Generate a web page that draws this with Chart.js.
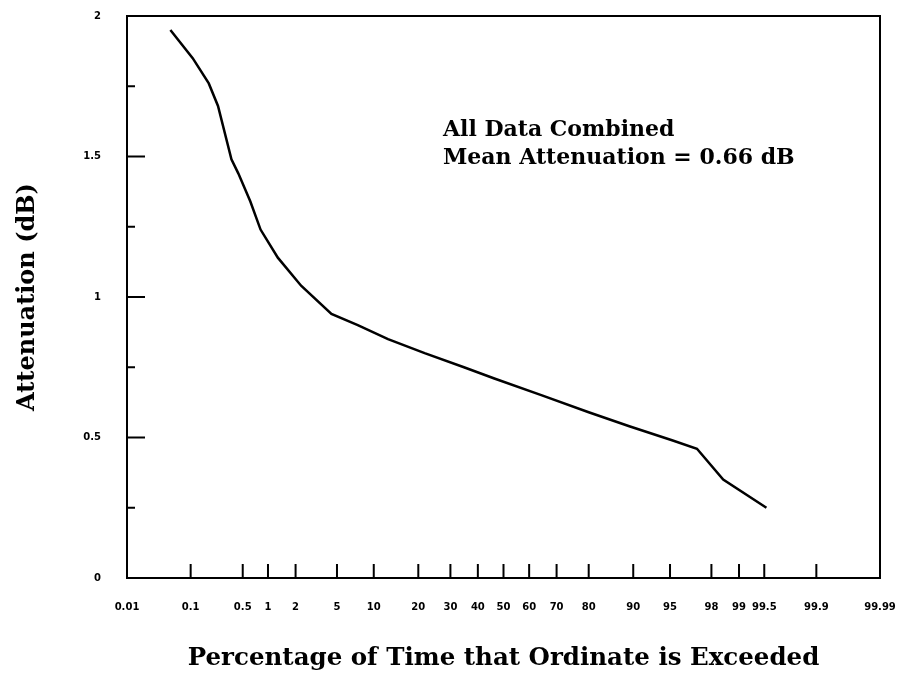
<!DOCTYPE html>
<html>
<head>
<meta charset="utf-8">
<script src="https://cdn.jsdelivr.net/npm/chart.js@4.4.0/dist/chart.umd.min.js"></script>
<style>
  html, body { margin: 0; padding: 0; background: #fff; }
  #wrap { width: 903px; height: 673px; }
</style>
</head>
<body>
<div id="wrap"><canvas id="chart"></canvas></div>
<script>
// percentage of time exceeded and attenuation in dB
var percentExceeded = [0.05, 0.107, 0.18, 0.24, 0.36, 0.44, 0.62, 0.82, 1.29, 2.28, 4.46, 7.5, 12.7, 21.8, 34.8, 46.4, 64.8, 80.0, 89.3, 95.2, 97.2, 98.5, 99.53];
var attenuation = [1.95, 1.85, 1.76, 1.68, 1.49, 1.44, 1.34, 1.24, 1.14, 1.04, 0.94, 0.90, 0.85, 0.80, 0.75, 0.71, 0.65, 0.59, 0.54, 0.49, 0.46, 0.35, 0.25];

var xTickLabels = [0.01, 0.1, 0.5, 1, 2, 5, 10, 20, 30, 40, 50, 60, 70, 80, 90, 95, 98, 99, 99.5, 99.9, 99.99];
var yTickValues = [0, 0.25, 0.5, 0.75, 1, 1.25, 1.5, 1.75, 2];
var yMajor = [0, 0.5, 1, 1.5, 2];

// inverse normal cdf (Acklam) -> probability paper axis
function probit(pct) {
  var p = pct / 100;
  var a = [-39.69683028665376, 220.9460984245205, -275.9285104469687, 138.357751867269, -30.66479806614716, 2.506628277459239];
  var b = [-54.47609879822406, 161.5858368580409, -155.6989798598866, 66.80131188771972, -13.28068155288572];
  var c = [-0.007784894002430293, -0.3223964580411365, -2.400758277161838, -2.549732539343734, 4.374664141464968, 2.938163982698783];
  var d = [0.007784695709041462, 0.3224671290700398, 2.445134137142996, 3.754408661907416];
  var pl = 0.02425, q, r;
  if (p < pl) {
    q = Math.sqrt(-2 * Math.log(p));
    return (((((c[0]*q+c[1])*q+c[2])*q+c[3])*q+c[4])*q+c[5]) / ((((d[0]*q+d[1])*q+d[2])*q+d[3])*q+1);
  }
  if (p > 1 - pl) {
    q = Math.sqrt(-2 * Math.log(1 - p));
    return -(((((c[0]*q+c[1])*q+c[2])*q+c[3])*q+c[4])*q+c[5]) / ((((d[0]*q+d[1])*q+d[2])*q+d[3])*q+1);
  }
  q = p - 0.5; r = q * q;
  return (((((a[0]*r+a[1])*r+a[2])*r+a[3])*r+a[4])*r+a[5])*q / (((((b[0]*r+b[1])*r+b[2])*r+b[3])*r+b[4])*r+1);
}

var points = percentExceeded.map((p, i) => ({ x: probit(p), y: attenuation[i] }));

// box, inward tick marks and the text note
const frame = {
  id: "frame",
  afterDraw(chart) {
    const ctx = chart.ctx;
    const area = chart.chartArea;
    const xs = chart.scales.x, ys = chart.scales.y;
    ctx.save();
    ctx.strokeStyle = "#000";
    ctx.lineWidth = 2;
    ctx.strokeRect(area.left, area.top, area.right - area.left, area.bottom - area.top);
    ctx.beginPath();
    xTickLabels.forEach((p, i) => {
      if (i == 0 || i == xTickLabels.length - 1) return;
      const px = xs.getPixelForValue(probit(p));
      ctx.moveTo(px, area.bottom);
      ctx.lineTo(px, area.bottom - 14);
    });
    yTickValues.forEach(v => {
      if (v == 0 || v == 2) return;
      const py = ys.getPixelForValue(v);
      const len = yMajor.includes(v) ? 18 : 8;
      ctx.moveTo(area.left, py);
      ctx.lineTo(area.left + len, py);
    });
    ctx.stroke();

    ctx.fillStyle = "#000";
    ctx.font = "bold 22px 'DejaVu Serif'";
    ctx.textBaseline = "middle";
    ctx.fillText("All Data Combined", 443, 130);
    ctx.fillText("Mean Attenuation = 0.66 dB", 443, 158);
    ctx.restore();
  }
};

const ctx = document.getElementById("chart");
new Chart(ctx, {
  type: "scatter",
  data: {
    datasets: [
      {
        label: "Attenuation",
        data: points,
        showLine: true,
        borderColor: "#000",
        backgroundColor: "#000",
        borderWidth: 2.5,
        pointRadius: 0,
        tension: 0,
      },
    ],
  },
  options: {
    responsive: true,
    maintainAspectRatio: false,
    animation: false,
    layout: { padding: { left: 0, right: 23, top: 16, bottom: 0 } },
    plugins: { legend: { display: false }, tooltip: { enabled: false } },
    scales: {
      x: {
        type: "linear",
        min: probit(0.01),
        max: probit(99.99),
        grid: { display: false, drawTicks: false },
        border: { display: false },
        afterBuildTicks: scale => {
          scale.ticks = xTickLabels.map(p => ({ value: probit(p) }));
        },
        afterFit: scale => {
          scale.height = 95;
          scale.paddingLeft = 0;
          scale.paddingRight = 0;
        },
        ticks: {
          autoSkip: false,
          maxRotation: 0,
          padding: 23,
          color: "#000",
          font: { family: "DejaVu Sans", size: 10, weight: "bold" },
          callback: (value, index) => String(xTickLabels[index]),
        },
        title: {
          display: true,
          text: "Percentage of Time that Ordinate is Exceeded",
          color: "#000",
          font: { family: "DejaVu Serif", size: 24.5, weight: "bold" },
          padding: { top: 0, bottom: 0 },
        },
      },
      y: {
        min: 0,
        max: 2,
        grid: { display: false, drawTicks: false },
        border: { display: false },
        afterBuildTicks: scale => {
          scale.ticks = yTickValues.map(v => ({ value: v }));
        },
        afterFit: scale => {
          scale.width = 127;
          scale.paddingTop = 0;
          scale.paddingBottom = 0;
        },
        ticks: {
          autoSkip: false,
          padding: 26,
          color: "#000",
          font: { family: "DejaVu Sans", size: 10, weight: "bold" },
          callback: value => (yMajor.includes(value) ? String(value) : ""),
        },
        title: {
          display: true,
          text: "Attenuation (dB)",
          color: "#000",
          font: { family: "DejaVu Serif", size: 24, weight: "bold" },
          padding: { top: 13, bottom: 0 },
        },
      },
    },
  },
  plugins: [frame],
});
</script>
</body>
</html>
